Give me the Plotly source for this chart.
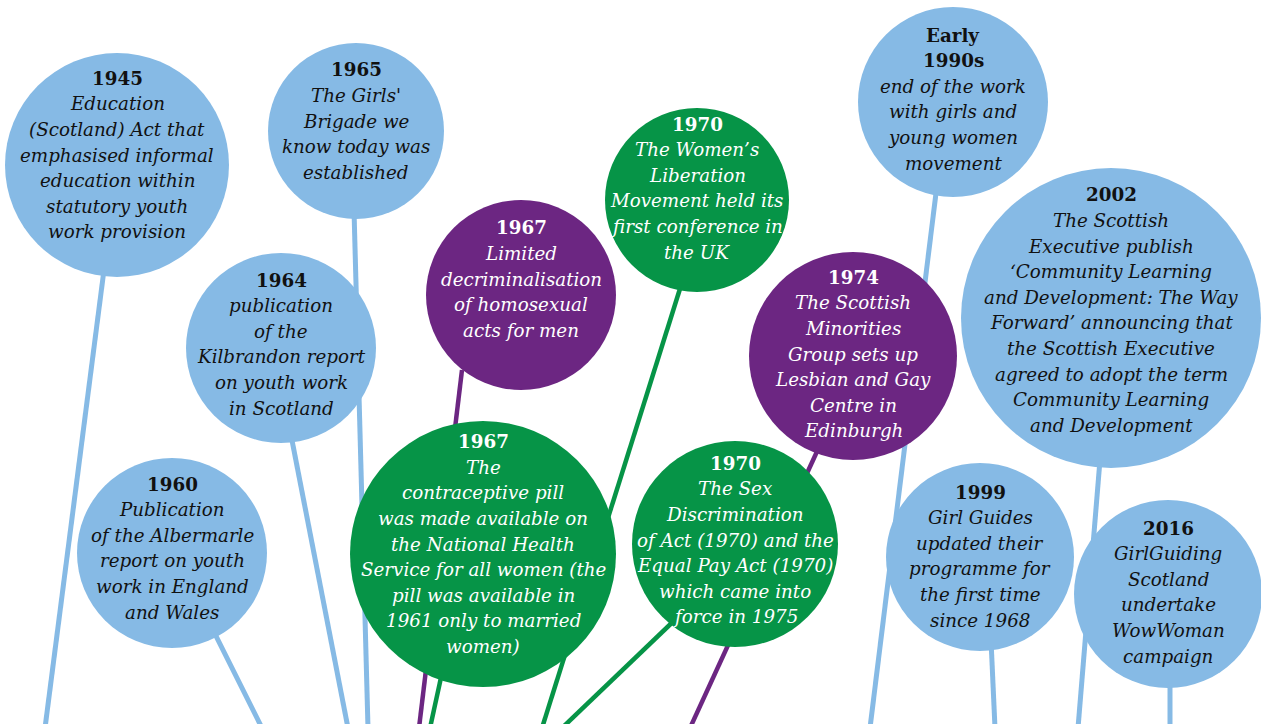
import plotly.graph_objects as go

# ---------------- data ----------------
years = ["1945", "1965", "1964", "1960", "1967", "1970", "1967", "1970",
         "1974", "Early\n1990s", "2002", "1999", "2016"]
descriptions = [
    "Education\n(Scotland) Act that\nemphasised informal\neducation within\nstatutory youth\nwork provision",
    "The Girls'\nBrigade we\nknow today was\nestablished",
    "publication\nof the\nKilbrandon report\non youth work\nin Scotland",
    "Publication\nof the Albermarle\nreport on youth\nwork in England\nand Wales",
    "Limited\ndecriminalisation\nof homosexual\nacts for men",
    "The Women\u2019s\nLiberation\nMovement held its\nfirst conference in\nthe UK",
    "The\ncontraceptive pill\nwas made available on\nthe National Health\nService for all women (the\npill was available in\n1961 only to married\nwomen)",
    "The Sex\nDiscrimination\nof Act (1970) and the\nEqual Pay Act (1970)\nwhich came into\nforce in 1975",
    "The Scottish\nMinorities\nGroup sets up\nLesbian and Gay\nCentre in\nEdinburgh",
    "end of the work\nwith girls and\nyoung women\nmovement",
    "The Scottish\nExecutive publish\n\u2018Community Learning\nand Development: The Way\nForward\u2019 announcing that\nthe Scottish Executive\nagreed to adopt the term\nCommunity Learning\nand Development",
    "Girl Guides\nupdated their\nprogramme for\nthe first time\nsince 1968",
    "GirlGuiding\nScotland\nundertake\nWowWoman\ncampaign",
]
categories = ["youth", "youth", "youth", "youth", "lgbt", "women", "women",
              "women", "lgbt", "youth", "youth", "youth", "youth"]

# ---------------- layout (positions / sizes) ----------------
circle_cx = [117, 356, 281, 172, 521, 697, 483, 735, 853, 953, 1111, 980, 1168]
circle_cy = [165, 131, 348, 553, 295, 200, 554, 544, 356, 102, 318, 557, 594]
circle_r = [112, 88, 95, 95, 95, 92, 133, 103, 104, 95, 150, 94, 94]
text_cy = [155, 121, 344, 548, 279, 188, 544, 540, 354, 99, 310, 556, 592]
stem_top_x = [105, 354, 290, 213, 462, 684, 447, 680, 820, 937, 1100, 991, 1170]
stem_top_y = [262, 210, 430, 630, 370, 276, 650, 615, 445, 185, 460, 640, 680]
stem_bot_x = [45, 368, 348, 262, 419, 542, 430, 562, 690, 870, 1078, 995, 1170]

W, H = 1261, 724
LH = 25.6
FONT = "DejaVu Serif"
FS = 18.3

fill = {"youth": "#86BAE5", "women": "#069447", "lgbt": "#6C2682"}
ink = {"youth": "#111111", "women": "#FFFFFF", "lgbt": "#FFFFFF"}
stem_w = {"youth": 5, "women": 4.5, "lgbt": 4.5}

fig = go.Figure()
shapes = []
# stems first (drawn under circles)
for i, c in enumerate(categories):
    shapes.append(dict(type="line", xref="x", yref="y",
                       x0=stem_top_x[i], y0=stem_top_y[i],
                       x1=stem_bot_x[i], y1=H + 4,
                       line=dict(color=fill[c], width=stem_w[c]), layer="below"))
for i, c in enumerate(categories):
    shapes.append(dict(type="circle", xref="x", yref="y",
                       x0=circle_cx[i] - circle_r[i], x1=circle_cx[i] + circle_r[i],
                       y0=circle_cy[i] - circle_r[i], y1=circle_cy[i] + circle_r[i],
                       fillcolor=fill[c], line=dict(width=0), layer="below"))

annotations = []
for i, c in enumerate(categories):
    ylines = years[i].split("\n")
    dlines = descriptions[i].split("\n")
    lines = [("<b>%s</b>" % s) for s in ylines] + [("<i>%s</i>" % s) for s in dlines]
    n = len(lines)
    for k, s in enumerate(lines):
        annotations.append(dict(
            x=circle_cx[i], y=text_cy[i] + (k - (n - 1) / 2) * LH,
            xref="x", yref="y", text=s, showarrow=False,
            xanchor="center", yanchor="middle",
            font=dict(family=FONT, size=FS, color=ink[c])))

fig.add_trace(go.Scatter(x=[0, W], y=[0, H], mode="markers",
                         marker=dict(opacity=0), hoverinfo="skip", showlegend=False))
fig.update_layout(
    width=W, height=H, margin=dict(l=0, r=0, t=0, b=0),
    paper_bgcolor="white", plot_bgcolor="white",
    shapes=shapes, annotations=annotations, showlegend=False,
    xaxis=dict(range=[0, W], visible=False, fixedrange=True),
    yaxis=dict(range=[H, 0], visible=False, fixedrange=True),
)
fig.write_html("out.html", config={"displayModeBar": False},
               post_script="document.body.style.margin='0';")
